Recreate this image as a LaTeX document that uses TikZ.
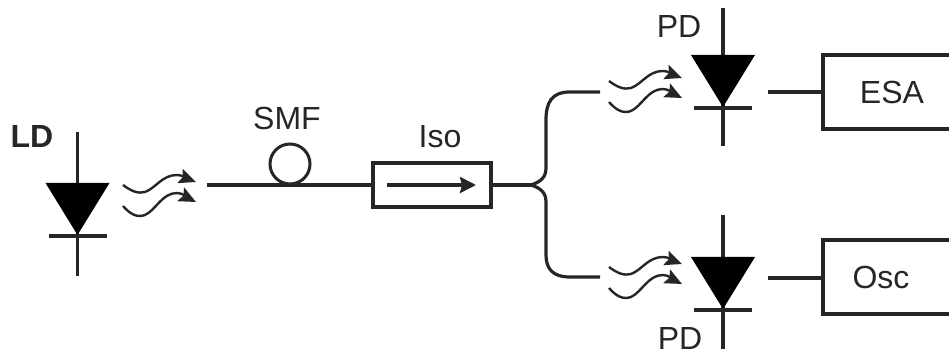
\documentclass[tikz,border=0pt]{standalone}
\usepackage{fontspec}
\setmainfont{Liberation Sans}
\usetikzlibrary{arrows.meta}
\definecolor{inkdark}{RGB}{38,38,38}
\tikzset{
  fibre/.style={draw=inkdark,line width=1.6pt},
  wave/.style={draw=inkdark,line width=1.2pt,-{Stealth[length=8.5pt,width=7.5pt,inset=1.5pt]}},
  devicebox/.style={draw=inkdark,line width=1.7pt,fill=white,inner sep=0pt,font=\fontsize{16}{19}\selectfont,text=inkdark},
  tag/.style={inner sep=0pt,outer sep=0pt,font=\fontsize{16}{19}\selectfont,text=inkdark},
  diode/.pic={
    \path[fill=black] (-32,0) -- (32,0) -- (0,52) -- cycle;
    \draw[fibre] (-29,53) -- (29,53);
  },
  photons/.pic={
    \draw[wave] (123,185) .. controls (131,191) and (138,194) .. (145,192) .. controls (156,188) and (162,175) .. (177,175) .. controls (183,175) and (188,179) .. (196,182);
    \draw[wave] (123,206) .. controls (130,214) and (137,218) .. (145,215) .. controls (156,210) and (162,193) .. (177,193) .. controls (183,193) and (188,198) .. (196,202);
  },
}
\begin{document}
\begin{tikzpicture}[x=.5pt,y=-.5pt]
\path[use as bounding box] (0,0) rectangle (949,356);
% laser side
\coordinate (ldtop) at (77.5,132);
\coordinate (ldbot) at (77.5,276);
\draw[fibre] (ldtop) -- (ldbot);
\pic at (77.5,183) {diode};
\pic at (0,0) {photons};
\node[tag,font=\bfseries\fontsize{16}{19}\selectfont] (ldtag) at (32,137) {LD};
% fibre and isolator
\coordinate (fibrestart) at (207,185);
\node[draw=inkdark,line width=1.5pt,circle,inner sep=0pt,minimum size=20pt] (loop) at (290,164) {};
\node[tag] (smftag) at (287,118) {SMF};
\node[devicebox,minimum width=59pt,minimum height=22pt] (iso) at (432,185) {};
\node[tag] (isotag) at (440,137) {Iso};
\draw[fibre] (fibrestart) -- (iso.west);
\coordinate (isoin) at (387,185);
\coordinate (isoout) at (476,185);
\draw[fibre,-{Stealth[length=8pt,width=8pt,inset=1pt]}] (isoin) -- (isoout);
% splitter
\coordinate (split) at (531,185);
\coordinate (uparm) at (600,92);
\coordinate (lowarm) at (600,277);
\draw[fibre] (iso.east) -- (split);
\draw[fibre] (split) .. controls (540,182) and (546,178) .. (546,168) -- (546,120) .. controls (546,102) and (552,92) .. (570,92) -- (uparm);
\draw[fibre] (split) .. controls (540,188) and (546,192) .. (546,202) -- (546,255) .. controls (546,268) and (552,277) .. (570,277) -- (lowarm);
% upper detector
\coordinate (pdatop) at (723,8);
\coordinate (pdabot) at (723,146);
\draw[fibre] (pdatop) -- (pdabot);
\pic at (723,55) {diode};
\pic at (486,-104) {photons};
\node[tag] (pdatag) at (679,27) {PD};
\node[devicebox,minimum width=69pt,minimum height=37pt] (esa) at (892,92) {ESA};
\coordinate (pdaout) at (768,92);
\draw[fibre] (pdaout) -- (esa.west);
% lower detector
\coordinate (pdbtop) at (723,215);
\coordinate (pdbbot) at (723,349);
\draw[fibre] (pdbtop) -- (pdbbot);
\pic at (723,257) {diode};
\pic at (486,82) {photons};
\node[tag] (pdbtag) at (680,339) {PD};
\node[devicebox,minimum width=69pt,minimum height=37pt] (osc) at (892,277) {Osc\hspace*{11pt}};
\coordinate (pdbout) at (768,278);
\draw[fibre] (pdbout) -- (osc.west |- pdbout);
\end{tikzpicture}
\end{document}
